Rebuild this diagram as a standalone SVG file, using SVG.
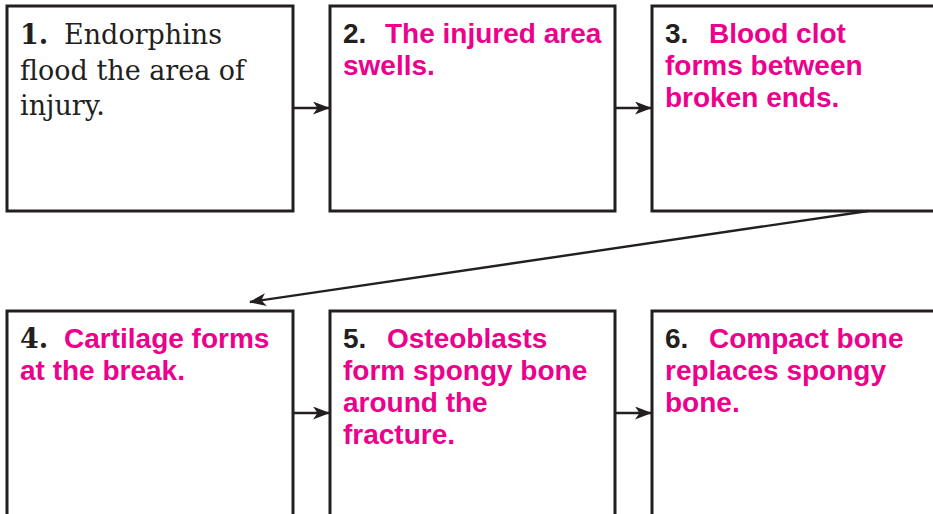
<svg xmlns="http://www.w3.org/2000/svg" width="933" height="514" viewBox="0 0 933 514">
<defs>
<style>
.box{fill:#fff;stroke:#231f20;stroke-width:3}
.num{font-family:"Liberation Sans",Arial,sans-serif;font-weight:bold;font-size:28px;fill:#231f20}
.pink{font-family:"Liberation Sans",Arial,sans-serif;font-weight:bold;font-size:28px;fill:#ec008c}
.serif{font-family:"DejaVu Serif","Liberation Serif",serif;font-size:27px;fill:#231f20}
.serifb{font-family:"DejaVu Serif","Liberation Serif",serif;font-weight:bold;font-size:27px;fill:#231f20}
.conn{stroke:#231f20;stroke-width:2.4;fill:none}
</style>
<marker id="ah" viewBox="0 0 17 13" refX="16" refY="6.5" markerWidth="17" markerHeight="13" markerUnits="userSpaceOnUse" orient="auto">
<path d="M0,0 L17,6.5 L0,13 L4.5,6.5 Z" fill="#231f20"/>
</marker>
</defs>
<rect width="933" height="514" fill="#fff"/>
<g id="node1">
<rect class="box" x="7" y="6" width="286" height="205"/>
<text class="serifb" x="20" y="44">1.</text>
<text class="serif" x="64" y="44">Endorphins</text>
<text class="serif" x="20" y="80">flood the area of</text>
<text class="serif" x="20" y="115">injury.</text>
</g>
<g id="node2">
<rect class="box" x="330" y="6" width="285" height="205"/>
<text class="num" x="343" y="43">2.</text>
<text class="pink" x="385" y="43">The injured area</text>
<text class="pink" x="343" y="75">swells.</text>
</g>
<g id="node3">
<rect class="box" x="652" y="6" width="300" height="205"/>
<text class="num" x="665" y="43">3.</text>
<text class="pink" x="709" y="43">Blood clot</text>
<text class="pink" x="665" y="75">forms between</text>
<text class="pink" x="665" y="107">broken ends.</text>
</g>
<g id="node4">
<rect class="box" x="7" y="311" width="286" height="230"/>
<text class="serifb" x="20" y="348">4.</text>
<text class="pink" x="64" y="348">Cartilage forms</text>
<text class="pink" x="20" y="380">at the break.</text>
</g>
<g id="node5">
<rect class="box" x="330" y="311" width="285" height="230"/>
<text class="num" x="343" y="348">5.</text>
<text class="pink" x="387" y="348">Osteoblasts</text>
<text class="pink" x="343" y="380">form spongy bone</text>
<text class="pink" x="343" y="412">around the</text>
<text class="pink" x="343" y="444">fracture.</text>
</g>
<g id="node6">
<rect class="box" x="652" y="311" width="300" height="230"/>
<text class="num" x="665" y="348">6.</text>
<text class="pink" x="709" y="348">Compact bone</text>
<text class="pink" x="665" y="380">replaces spongy</text>
<text class="pink" x="665" y="412">bone.</text>
</g>
<g id="connectors">
<line class="conn" x1="294" y1="108" x2="329" y2="108" marker-end="url(#ah)"/>
<line class="conn" x1="616" y1="108" x2="651" y2="108" marker-end="url(#ah)"/>
<line class="conn" x1="868" y1="211" x2="250" y2="302" marker-end="url(#ah)"/>
<line class="conn" x1="294" y1="413" x2="329" y2="413" marker-end="url(#ah)"/>
<line class="conn" x1="616" y1="413" x2="651" y2="413" marker-end="url(#ah)"/>
</g>
</svg>
